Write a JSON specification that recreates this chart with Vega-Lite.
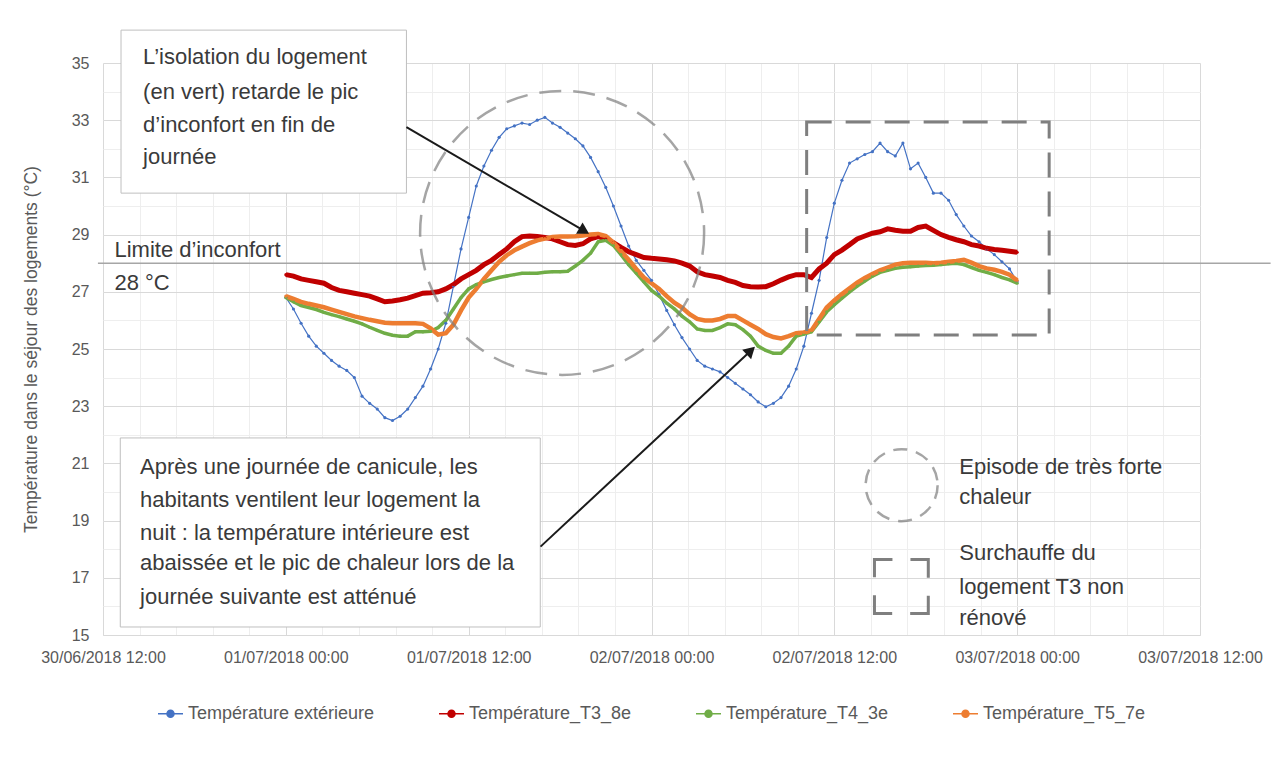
{
  "$schema": "https://vega.github.io/schema/vega-lite/v6.json",
  "width": 1097,
  "height": 572,
  "autosize": {"type": "none"},
  "padding": {"left": 103, "top": 63, "right": 75, "bottom": 130},
  "background": "white",
  "config": {"view": {"stroke": null}, "font": "Liberation Sans"},
  "resolve": {"axis": {"x": "independent", "y": "independent"}},
  "encoding": {
    "x": {"field": "date", "type": "temporal", "scale": {"domain": [{"year": 2018, "month": 6, "date": 30, "hours": 12}, {"year": 2018, "month": 7, "date": 3, "hours": 12}], "nice": false}, "axis": null},
    "y": {"field": "temp", "type": "quantitative", "scale": {"domain": [15, 35], "nice": false, "zero": false}, "axis": null}
  },
  "layer": [
    {
      "data": {"values": [{"date": "2018-06-30T11:40", "date2": "2018-07-03T16:38", "temp": 28}]},
      "mark": {"type": "rule", "color": "#a6a6a6", "strokeWidth": 1.5, "clip": false},
      "encoding": {
        "x": {"field": "date", "type": "temporal", "scale": {"domain": [{"year": 2018, "month": 6, "date": 30, "hours": 12}, {"year": 2018, "month": 7, "date": 3, "hours": 12}], "nice": false},
          "axis": {"orient": "top", "values": [
            {"year": 2018, "month": 6, "date": 30, "hours": 12}, {"year": 2018, "month": 6, "date": 30, "hours": 14, "minutes": 24}, {"year": 2018, "month": 6, "date": 30, "hours": 16, "minutes": 48}, {"year": 2018, "month": 6, "date": 30, "hours": 19, "minutes": 12}, {"year": 2018, "month": 6, "date": 30, "hours": 21, "minutes": 36},
            {"year": 2018, "month": 7, "date": 1, "hours": 0}, {"year": 2018, "month": 7, "date": 1, "hours": 2, "minutes": 24}, {"year": 2018, "month": 7, "date": 1, "hours": 4, "minutes": 48}, {"year": 2018, "month": 7, "date": 1, "hours": 7, "minutes": 12}, {"year": 2018, "month": 7, "date": 1, "hours": 9, "minutes": 36},
            {"year": 2018, "month": 7, "date": 1, "hours": 12}, {"year": 2018, "month": 7, "date": 1, "hours": 14, "minutes": 24}, {"year": 2018, "month": 7, "date": 1, "hours": 16, "minutes": 48}, {"year": 2018, "month": 7, "date": 1, "hours": 19, "minutes": 12}, {"year": 2018, "month": 7, "date": 1, "hours": 21, "minutes": 36},
            {"year": 2018, "month": 7, "date": 2, "hours": 0}, {"year": 2018, "month": 7, "date": 2, "hours": 2, "minutes": 24}, {"year": 2018, "month": 7, "date": 2, "hours": 4, "minutes": 48}, {"year": 2018, "month": 7, "date": 2, "hours": 7, "minutes": 12}, {"year": 2018, "month": 7, "date": 2, "hours": 9, "minutes": 36},
            {"year": 2018, "month": 7, "date": 2, "hours": 12}, {"year": 2018, "month": 7, "date": 2, "hours": 14, "minutes": 24}, {"year": 2018, "month": 7, "date": 2, "hours": 16, "minutes": 48}, {"year": 2018, "month": 7, "date": 2, "hours": 19, "minutes": 12}, {"year": 2018, "month": 7, "date": 2, "hours": 21, "minutes": 36},
            {"year": 2018, "month": 7, "date": 3, "hours": 0}, {"year": 2018, "month": 7, "date": 3, "hours": 2, "minutes": 24}, {"year": 2018, "month": 7, "date": 3, "hours": 4, "minutes": 48}, {"year": 2018, "month": 7, "date": 3, "hours": 7, "minutes": 12}, {"year": 2018, "month": 7, "date": 3, "hours": 9, "minutes": 36},
            {"year": 2018, "month": 7, "date": 3, "hours": 12}],
            "grid": true, "gridColor": "#eeeeee", "labels": false, "ticks": false, "domain": false, "title": null}},
        "x2": {"field": "date2"},
        "y": {"field": "temp", "type": "quantitative", "scale": {"domain": [15, 35], "nice": false, "zero": false},
          "axis": {"orient": "right", "values": [15, 16, 17, 18, 19, 20, 21, 22, 23, 24, 25, 26, 27, 28, 29, 30, 31, 32, 33, 34, 35], "grid": true, "gridColor": "#eeeeee", "labels": false, "ticks": false, "domain": false, "title": null}}
      }
    },
    {
      "data": {"values": [
        {"date": "2018-07-01T00:00", "ext": 26.8, "t3": 27.6, "t4": 26.8, "t5": 26.85},
        {"date": "2018-07-01T00:30", "ext": 26.4, "t3": 27.55, "t4": 26.65, "t5": 26.75},
        {"date": "2018-07-01T01:00", "ext": 25.9, "t3": 27.45, "t4": 26.52, "t5": 26.65},
        {"date": "2018-07-01T01:30", "ext": 25.45, "t3": 27.4, "t4": 26.45, "t5": 26.58},
        {"date": "2018-07-01T02:00", "ext": 25.1, "t3": 27.35, "t4": 26.38, "t5": 26.52},
        {"date": "2018-07-01T02:30", "ext": 24.85, "t3": 27.3, "t4": 26.28, "t5": 26.46},
        {"date": "2018-07-01T03:00", "ext": 24.6, "t3": 27.15, "t4": 26.2, "t5": 26.38},
        {"date": "2018-07-01T03:30", "ext": 24.4, "t3": 27.05, "t4": 26.13, "t5": 26.3},
        {"date": "2018-07-01T04:00", "ext": 24.25, "t3": 27.0, "t4": 26.05, "t5": 26.22},
        {"date": "2018-07-01T04:30", "ext": 24.0, "t3": 26.95, "t4": 25.97, "t5": 26.14},
        {"date": "2018-07-01T05:00", "ext": 23.35, "t3": 26.9, "t4": 25.88, "t5": 26.08},
        {"date": "2018-07-01T05:30", "ext": 23.1, "t3": 26.85, "t4": 25.76, "t5": 26.02},
        {"date": "2018-07-01T06:00", "ext": 22.9, "t3": 26.75, "t4": 25.65, "t5": 25.97},
        {"date": "2018-07-01T06:30", "ext": 22.6, "t3": 26.65, "t4": 25.55, "t5": 25.92},
        {"date": "2018-07-01T07:00", "ext": 22.5, "t3": 26.68, "t4": 25.48, "t5": 25.9},
        {"date": "2018-07-01T07:30", "ext": 22.65, "t3": 26.72, "t4": 25.45, "t5": 25.9},
        {"date": "2018-07-01T08:00", "ext": 22.9, "t3": 26.78, "t4": 25.45, "t5": 25.9},
        {"date": "2018-07-01T08:30", "ext": 23.3, "t3": 26.87, "t4": 25.6, "t5": 25.9},
        {"date": "2018-07-01T09:00", "ext": 23.7, "t3": 26.95, "t4": 25.6, "t5": 25.88},
        {"date": "2018-07-01T09:30", "ext": 24.3, "t3": 26.97, "t4": 25.62, "t5": 25.72},
        {"date": "2018-07-01T10:00", "ext": 25.0, "t3": 27.0, "t4": 25.75, "t5": 25.5},
        {"date": "2018-07-01T10:30", "ext": 25.9, "t3": 27.1, "t4": 26.0, "t5": 25.55},
        {"date": "2018-07-01T11:00", "ext": 27.2, "t3": 27.25, "t4": 26.4, "t5": 25.85},
        {"date": "2018-07-01T11:30", "ext": 28.5, "t3": 27.45, "t4": 26.8, "t5": 26.35},
        {"date": "2018-07-01T12:00", "ext": 29.6, "t3": 27.6, "t4": 27.1, "t5": 26.8},
        {"date": "2018-07-01T12:30", "ext": 30.7, "t3": 27.75, "t4": 27.25, "t5": 27.1},
        {"date": "2018-07-01T13:00", "ext": 31.4, "t3": 27.95, "t4": 27.35, "t5": 27.45},
        {"date": "2018-07-01T13:30", "ext": 31.95, "t3": 28.1, "t4": 27.43, "t5": 27.75},
        {"date": "2018-07-01T14:00", "ext": 32.4, "t3": 28.3, "t4": 27.5, "t5": 28.05},
        {"date": "2018-07-01T14:30", "ext": 32.7, "t3": 28.5, "t4": 27.55, "t5": 28.28},
        {"date": "2018-07-01T15:00", "ext": 32.8, "t3": 28.75, "t4": 27.6, "t5": 28.45},
        {"date": "2018-07-01T15:30", "ext": 32.9, "t3": 28.93, "t4": 27.65, "t5": 28.58},
        {"date": "2018-07-01T16:00", "ext": 32.85, "t3": 28.95, "t4": 27.65, "t5": 28.7},
        {"date": "2018-07-01T16:30", "ext": 33.0, "t3": 28.93, "t4": 27.65, "t5": 28.8},
        {"date": "2018-07-01T17:00", "ext": 33.1, "t3": 28.9, "t4": 27.68, "t5": 28.86},
        {"date": "2018-07-01T17:30", "ext": 32.9, "t3": 28.85, "t4": 27.7, "t5": 28.92},
        {"date": "2018-07-01T18:00", "ext": 32.75, "t3": 28.75, "t4": 27.7, "t5": 28.93},
        {"date": "2018-07-01T18:30", "ext": 32.55, "t3": 28.65, "t4": 27.72, "t5": 28.93},
        {"date": "2018-07-01T19:00", "ext": 32.35, "t3": 28.62, "t4": 27.9, "t5": 28.94},
        {"date": "2018-07-01T19:30", "ext": 32.1, "t3": 28.68, "t4": 28.1, "t5": 28.97},
        {"date": "2018-07-01T20:00", "ext": 31.7, "t3": 28.85, "t4": 28.35, "t5": 29.0},
        {"date": "2018-07-01T20:30", "ext": 31.2, "t3": 28.93, "t4": 28.75, "t5": 29.02},
        {"date": "2018-07-01T21:00", "ext": 30.65, "t3": 28.85, "t4": 28.8, "t5": 28.95},
        {"date": "2018-07-01T21:30", "ext": 30.0, "t3": 28.72, "t4": 28.62, "t5": 28.72},
        {"date": "2018-07-01T22:00", "ext": 29.3, "t3": 28.55, "t4": 28.3, "t5": 28.42},
        {"date": "2018-07-01T22:30", "ext": 28.6, "t3": 28.4, "t4": 27.95, "t5": 28.12},
        {"date": "2018-07-01T23:00", "ext": 28.1, "t3": 28.3, "t4": 27.65, "t5": 27.8},
        {"date": "2018-07-01T23:30", "ext": 27.75, "t3": 28.2, "t4": 27.35, "t5": 27.5},
        {"date": "2018-07-02T00:00", "ext": 27.4, "t3": 28.17, "t4": 27.05, "t5": 27.3},
        {"date": "2018-07-02T00:30", "ext": 26.9, "t3": 28.15, "t4": 26.85, "t5": 27.1},
        {"date": "2018-07-02T01:00", "ext": 26.35, "t3": 28.12, "t4": 26.6, "t5": 26.85},
        {"date": "2018-07-02T01:30", "ext": 25.85, "t3": 28.08, "t4": 26.4, "t5": 26.62},
        {"date": "2018-07-02T02:00", "ext": 25.4, "t3": 28.0, "t4": 26.15, "t5": 26.45},
        {"date": "2018-07-02T02:30", "ext": 25.0, "t3": 27.9, "t4": 25.95, "t5": 26.22},
        {"date": "2018-07-02T03:00", "ext": 24.6, "t3": 27.7, "t4": 25.7, "t5": 26.05},
        {"date": "2018-07-02T03:30", "ext": 24.4, "t3": 27.6, "t4": 25.65, "t5": 26.0},
        {"date": "2018-07-02T04:00", "ext": 24.3, "t3": 27.55, "t4": 25.65, "t5": 26.0},
        {"date": "2018-07-02T04:30", "ext": 24.2, "t3": 27.5, "t4": 25.75, "t5": 26.05},
        {"date": "2018-07-02T05:00", "ext": 24.0, "t3": 27.4, "t4": 25.88, "t5": 26.15},
        {"date": "2018-07-02T05:30", "ext": 23.8, "t3": 27.33, "t4": 25.85, "t5": 26.15},
        {"date": "2018-07-02T06:00", "ext": 23.6, "t3": 27.22, "t4": 25.68, "t5": 26.0},
        {"date": "2018-07-02T06:30", "ext": 23.4, "t3": 27.18, "t4": 25.45, "t5": 25.85},
        {"date": "2018-07-02T07:00", "ext": 23.15, "t3": 27.17, "t4": 25.1, "t5": 25.7},
        {"date": "2018-07-02T07:30", "ext": 22.98, "t3": 27.18, "t4": 24.95, "t5": 25.52},
        {"date": "2018-07-02T08:00", "ext": 23.1, "t3": 27.28, "t4": 24.85, "t5": 25.42},
        {"date": "2018-07-02T08:30", "ext": 23.3, "t3": 27.41, "t4": 24.85, "t5": 25.37},
        {"date": "2018-07-02T09:00", "ext": 23.7, "t3": 27.52, "t4": 25.1, "t5": 25.45},
        {"date": "2018-07-02T09:30", "ext": 24.3, "t3": 27.6, "t4": 25.45, "t5": 25.55},
        {"date": "2018-07-02T10:00", "ext": 25.1, "t3": 27.6, "t4": 25.52, "t5": 25.58},
        {"date": "2018-07-02T10:30", "ext": 26.25, "t3": 27.5, "t4": 25.6, "t5": 25.65},
        {"date": "2018-07-02T11:00", "ext": 27.4, "t3": 27.8, "t4": 25.95, "t5": 26.05},
        {"date": "2018-07-02T11:30", "ext": 28.9, "t3": 28.0, "t4": 26.3, "t5": 26.45},
        {"date": "2018-07-02T12:00", "ext": 30.1, "t3": 28.3, "t4": 26.55, "t5": 26.7},
        {"date": "2018-07-02T12:30", "ext": 30.9, "t3": 28.46, "t4": 26.78, "t5": 26.92},
        {"date": "2018-07-02T13:00", "ext": 31.5, "t3": 28.65, "t4": 27.0, "t5": 27.12},
        {"date": "2018-07-02T13:30", "ext": 31.65, "t3": 28.85, "t4": 27.2, "t5": 27.32},
        {"date": "2018-07-02T14:00", "ext": 31.8, "t3": 28.95, "t4": 27.38, "t5": 27.48},
        {"date": "2018-07-02T14:30", "ext": 31.9, "t3": 29.05, "t4": 27.55, "t5": 27.62},
        {"date": "2018-07-02T15:00", "ext": 32.2, "t3": 29.1, "t4": 27.68, "t5": 27.75},
        {"date": "2018-07-02T15:30", "ext": 31.9, "t3": 29.2, "t4": 27.75, "t5": 27.85},
        {"date": "2018-07-02T16:00", "ext": 31.75, "t3": 29.15, "t4": 27.82, "t5": 27.95},
        {"date": "2018-07-02T16:30", "ext": 32.2, "t3": 29.12, "t4": 27.86, "t5": 28.0},
        {"date": "2018-07-02T17:00", "ext": 31.3, "t3": 29.12, "t4": 27.88, "t5": 28.02},
        {"date": "2018-07-02T17:30", "ext": 31.5, "t3": 29.25, "t4": 27.9, "t5": 28.02},
        {"date": "2018-07-02T18:00", "ext": 31.0, "t3": 29.3, "t4": 27.92, "t5": 28.02},
        {"date": "2018-07-02T18:30", "ext": 30.45, "t3": 29.15, "t4": 27.93, "t5": 28.0},
        {"date": "2018-07-02T19:00", "ext": 30.45, "t3": 29.0, "t4": 27.95, "t5": 28.02},
        {"date": "2018-07-02T19:30", "ext": 30.2, "t3": 28.9, "t4": 27.98, "t5": 28.05},
        {"date": "2018-07-02T20:00", "ext": 29.7, "t3": 28.82, "t4": 28.0, "t5": 28.08},
        {"date": "2018-07-02T20:30", "ext": 29.3, "t3": 28.75, "t4": 27.95, "t5": 28.12},
        {"date": "2018-07-02T21:00", "ext": 28.95, "t3": 28.65, "t4": 27.85, "t5": 28.02},
        {"date": "2018-07-02T21:30", "ext": 28.75, "t3": 28.6, "t4": 27.75, "t5": 27.9},
        {"date": "2018-07-02T22:00", "ext": 28.5, "t3": 28.52, "t4": 27.68, "t5": 27.82},
        {"date": "2018-07-02T22:30", "ext": 28.3, "t3": 28.48, "t4": 27.6, "t5": 27.77},
        {"date": "2018-07-02T23:00", "ext": 28.05, "t3": 28.45, "t4": 27.5, "t5": 27.7},
        {"date": "2018-07-02T23:30", "ext": 27.8, "t3": 28.42, "t4": 27.42, "t5": 27.6},
        {"date": "2018-07-03T00:00", "ext": 27.35, "t3": 28.38, "t4": 27.3, "t5": 27.4}
      ]},
      "transform": [{"fold": ["ext", "t3", "t4", "t5"], "as": ["serie", "temp"]}],
      "mark": {"type": "line", "point": {"filled": true, "size": 10}},
      "encoding": {
        "x": {"field": "date", "type": "temporal", "scale": {"domain": [{"year": 2018, "month": 6, "date": 30, "hours": 12}, {"year": 2018, "month": 7, "date": 3, "hours": 12}], "nice": false},
          "axis": {"orient": "bottom", "values": [{"year": 2018, "month": 6, "date": 30, "hours": 12}, {"year": 2018, "month": 7, "date": 1, "hours": 0}, {"year": 2018, "month": 7, "date": 1, "hours": 12}, {"year": 2018, "month": 7, "date": 2, "hours": 0}, {"year": 2018, "month": 7, "date": 2, "hours": 12}, {"year": 2018, "month": 7, "date": 3, "hours": 0}, {"year": 2018, "month": 7, "date": 3, "hours": 12}],
            "format": "%d/%m/%Y %H:%M", "labelFontSize": 16, "labelColor": "#595959", "labelPadding": 14, "ticks": false, "domain": true, "domainColor": "#d9d9d9", "grid": true, "gridColor": "#d9d9d9", "title": null, "labelFlush": false, "labelOverlap": false}},
        "y": {"field": "temp", "type": "quantitative", "scale": {"domain": [15, 35], "nice": false, "zero": false},
          "axis": {"orient": "left", "values": [15, 17, 19, 21, 23, 25, 27, 29, 31, 33, 35], "labelFontSize": 16, "labelColor": "#595959", "labelPadding": 14, "ticks": false, "domain": false, "grid": true, "gridColor": "#d9d9d9",
            "title": "Température dans le séjour des logements (°C)", "titleFontSize": 17.5, "titleFontWeight": "normal", "titleColor": "#595959", "titlePadding": 31}},
        "color": {"field": "serie", "type": "nominal", "scale": {"domain": ["ext", "t3", "t4", "t5"], "range": ["#4472C4", "#C00000", "#70AD47", "#ED7D31"]},
          "legend": {"orient": "none", "legendX": 54, "legendY": 637, "direction": "horizontal", "columns": 4, "columnPadding": 61, "title": null,
            "labelFontSize": 18, "labelColor": "#595959", "labelOffset": 4, "labelLimit": 400,
            "labelExpr": "{'ext': 'Température extérieure', 't3': 'Température_T3_8e', 't4': 'Température_T4_3e', 't5': 'Température_T5_7e'}[datum.value]",
            "symbolType": "M-1,0L1,0M-0.28,0A0.28,0.28,0,1,1,0.28,0A0.28,0.28,0,1,1,-0.28,0Z", "symbolSize": 625, "symbolStrokeWidth": 1.5,
            "encode": {"symbols": {"update": {"fill": {"scale": "color", "field": "value"}}}}}},
        "strokeWidth": {"condition": [{"test": "datum.serie == 'ext'", "value": 1.2}, {"test": "datum.serie == 't3'", "value": 5}, {"test": "datum.serie == 't4'", "value": 3.5}], "value": 4.5}
      }
    },
    {
      "data": {"values": [{"date": "2018-07-01T18:08", "temp": 29.06}]},
      "mark": {"type": "point", "shape": "circle", "size": 80656, "filled": false, "stroke": "#7f7f7f", "strokeWidth": 2.5, "strokeDash": [22, 12], "clip": false}
    },
    {
      "data": {"values": [{"date": "2018-07-02T10:11", "date2": "2018-07-03T02:06", "temp": 32.94, "temp2": 25.49}]},
      "mark": {"type": "rect", "fill": null, "fillOpacity": 0, "stroke": "#7f7f7f", "strokeWidth": 3, "strokeDash": [25, 14], "clip": false},
      "encoding": {"x2": {"field": "date2"}, "y2": {"field": "temp2"}}
    },
    {
      "data": {"values": [
        {"date": "2018-06-30T13:11", "date2": "2018-07-01T07:55", "temp": 36.15, "temp2": 30.45},
        {"date": "2018-06-30T13:08", "date2": "2018-07-01T16:42", "temp": 21.89, "temp2": 15.28}
      ]},
      "mark": {"type": "rect", "fill": "white", "stroke": "#bfbfbf", "strokeWidth": 1, "clip": false},
      "encoding": {"x2": {"field": "date2"}, "y2": {"field": "temp2"}}
    },
    {
      "data": {"values": [
        {"date": "2018-06-30T14:38", "temp": 35.22, "texte": "L’isolation du logement"},
        {"date": "2018-06-30T14:38", "temp": 34.0, "texte": "(en vert) retarde le pic"},
        {"date": "2018-06-30T14:38", "temp": 32.83, "texte": "d’inconfort en fin de"},
        {"date": "2018-06-30T14:38", "temp": 31.72, "texte": "journée"},
        {"date": "2018-06-30T14:26", "temp": 20.88, "texte": "Après une journée de canicule, les"},
        {"date": "2018-06-30T14:26", "temp": 19.72, "texte": "habitants ventilent leur logement la"},
        {"date": "2018-06-30T14:26", "temp": 18.57, "texte": "nuit : la température intérieure est"},
        {"date": "2018-06-30T14:26", "temp": 17.52, "texte": "abaissée et le pic de chaleur lors de la"},
        {"date": "2018-06-30T14:26", "temp": 16.33, "texte": "journée suivante est atténué"},
        {"date": "2018-06-30T12:45", "temp": 28.46, "texte": "Limite d’inconfort"},
        {"date": "2018-06-30T12:45", "temp": 27.31, "texte": "28 °C"},
        {"date": "2018-07-02T20:12", "temp": 20.87, "texte": "Episode de très forte"},
        {"date": "2018-07-02T20:12", "temp": 19.83, "texte": "chaleur"},
        {"date": "2018-07-02T20:12", "temp": 17.87, "texte": "Surchauffe du"},
        {"date": "2018-07-02T20:12", "temp": 16.68, "texte": "logement T3 non"},
        {"date": "2018-07-02T20:12", "temp": 15.59, "texte": "rénové"}
      ]},
      "mark": {"type": "text", "align": "left", "baseline": "middle", "fontSize": 22, "color": "#3a3a3a", "clip": false},
      "encoding": {"text": {"field": "texte"}}
    },
    {
      "data": {"values": [{"date": "2018-07-02T16:25", "temp": 20.24}]},
      "mark": {"type": "point", "shape": "circle", "size": 5184, "filled": false, "stroke": "#7f7f7f", "strokeWidth": 2.5, "strokeDash": [14, 9]}
    },
    {
      "data": {"values": [{"date": "2018-07-02T14:38", "date2": "2018-07-02T18:10", "temp": 17.64, "temp2": 15.75}]},
      "mark": {"type": "rect", "fill": null, "fillOpacity": 0, "stroke": "#7f7f7f", "strokeWidth": 3, "strokeDash": [36, 18], "strokeDashOffset": 18},
      "encoding": {"x2": {"field": "date2"}, "y2": {"field": "temp2"}}
    },
    {
      "data": {"values": [
        {"date": "2018-07-01T07:55", "date2": "2018-07-01T19:35", "temp": 32.76, "temp2": 29.13},
        {"date": "2018-07-01T16:43", "date2": "2018-07-02T06:31", "temp": 18.09, "temp2": 24.94}
      ]},
      "mark": {"type": "rule", "color": "#1a1a1a", "strokeWidth": 2},
      "encoding": {"x2": {"field": "date2"}, "y2": {"field": "temp2"}}
    },
    {
      "data": {"values": [{"date": "2018-07-01T19:35", "temp": 29.13}]},
      "mark": {"type": "point", "shape": "triangle-up", "size": 170, "filled": true, "color": "#1a1a1a", "opacity": 1, "angle": 120}
    },
    {
      "data": {"values": [{"date": "2018-07-02T06:31", "temp": 24.94}]},
      "mark": {"type": "point", "shape": "triangle-up", "size": 170, "filled": true, "color": "#1a1a1a", "opacity": 1, "angle": 47}
    }
  ]
}
